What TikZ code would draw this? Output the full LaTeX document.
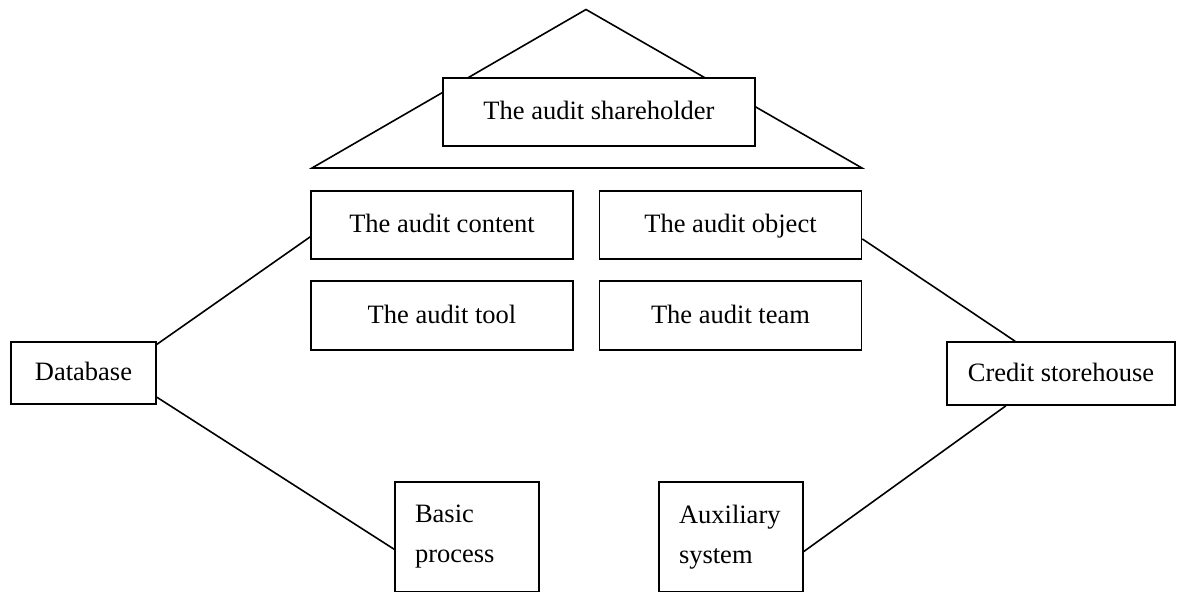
\documentclass[tikz,border=0pt]{standalone}
\usepackage{fontspec}
\setmainfont{Liberation Serif}
\usetikzlibrary{calc}
\newcommand{\lnk}[2]{\draw (#1) -- (#2);}

\begin{document}
\begin{tikzpicture}[x=0.5pt,y=-0.5pt,line width=0.8pt,
  every node/.style={font=\fontsize{13.25pt}{20pt}\selectfont},
  frame/.style={draw,fill=white,inner sep=0pt},
  box/.style={frame,minimum height=34pt,text height=9.5pt,text depth=2pt},
  wide/.style={box,minimum width=131pt},
  tall/.style={frame,minimum width=72pt,minimum height=55pt,text width=52pt,align=left}]
  \useasboundingbox (0,0) rectangle (1179,591);
  \coordinate (apex) at (586,9.5);
  \coordinate (baseL) at (312,168);
  \coordinate (baseR) at (862,168);
  \draw (apex) -- (baseL) -- (baseR) -- cycle;
  \node[box,minimum width=156pt] (share) at (599,112) {The audit shareholder};
  \node[wide] (content) at (442,225) {The audit content};
  \node[wide] (object) at (730.5,225) {The audit object};
  \node[wide,minimum height=34.5pt] (tool) at (442,315.5) {The audit tool};
  \node[wide,minimum height=34.5pt] (team) at (730.5,315.5) {The audit team};
  \node[box,minimum width=72.5pt,minimum height=31pt] (db) at (83.5,373) {Database};
  \node[box,minimum width=114pt,minimum height=31.5pt] (credit) at (1061,373.5) {Credit storehouse};
  \node[tall] (basic) at (467,537) {Basic\\process};
  \node[tall] (aux) at (731,537) {Auxiliary\\system};
  \lnk{$(db.north east)!0.05!(db.south east)$}{$(content.south west)!0.33!(content.north west)$}
  \lnk{$(db.south east)!0.12!(db.north east)$}{$(basic.north west)!0.61!(basic.south west)$}
  \lnk{$(object.south east)!0.3!(object.north east)$}{$(credit.north west)!0.3!(credit.north east)$}
  \lnk{$(aux.north east)!0.63!(aux.south east)$}{$(credit.south west)!0.26!(credit.south east)$}
\end{tikzpicture}
\end{document}
